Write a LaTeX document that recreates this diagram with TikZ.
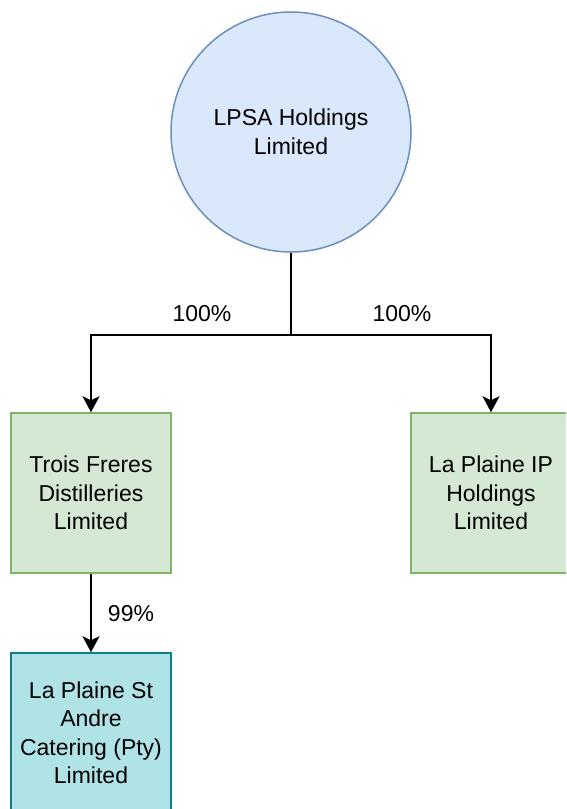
\documentclass[tikz,border=0pt]{standalone}
\usepackage{fontspec}
\setmainfont{Liberation Sans}
\usetikzlibrary{arrows.meta}
\definecolor{bluefill}{HTML}{DAE8FC}
\definecolor{bluedraw}{HTML}{6C8EBF}
\definecolor{greenfill}{HTML}{D5E8D4}
\definecolor{greendraw}{HTML}{82B366}
\definecolor{tealfill}{HTML}{B0E3E6}
\definecolor{tealdraw}{HTML}{0E8088}
\tikzset{
  txt/.style={font=\fontsize{23}{28.5}\selectfont, align=center, text=black},
  holding/.style={txt, circle, minimum size=240pt, inner sep=0pt, fill=bluefill, draw=bluedraw, line width=1.5pt},
  greenbox/.style={txt, rectangle, minimum width=160pt, minimum height=160pt, inner sep=0pt, fill=greenfill, draw=greendraw, line width=1.5pt},
  tealbox/.style={txt, rectangle, minimum width=160pt, minimum height=160pt, inner sep=0pt, fill=tealfill, draw=tealdraw, line width=1.5pt},
  stem/.style={draw=black, line width=1.8pt},
  conn/.style={stem, -{Stealth[length=16pt, width=17pt, inset=4pt]}},
  lbl/.style={txt, inner sep=0pt}
}
\begin{document}
\begin{tikzpicture}[x=1pt, y=-1pt]
  \clip (0,0) rectangle (566,809);
  \fill[white] (0,0) rectangle (566,809);
  \node[holding] (lpsa) at (291,132) {LPSA Holdings\\Limited};
  \node[greenbox] (tf) at (91,493) {Trois Freres\\Distilleries\\Limited};
  \node[greenbox] (ip) at (491,493) {La Plaine IP\\Holdings\\Limited};
  \node[tealbox] (lp) at (91,733) {La Plaine St\\Andre\\Catering (Pty)\\Limited};
  \coordinate (j) at (291,335);
  \draw[stem] (lpsa.south) -- (j);
  \draw[conn] (j) -| (tf.north);
  \draw[conn] (j) -| (ip.north);
  \draw[conn] (tf.south) -- (lp.north);
  \node[lbl] (l1) at (202,314) {100\%};
  \node[lbl] (l2) at (402,314) {100\%};
  \node[lbl] (l3) at (131,614) {99\%};
\end{tikzpicture}
\end{document}
